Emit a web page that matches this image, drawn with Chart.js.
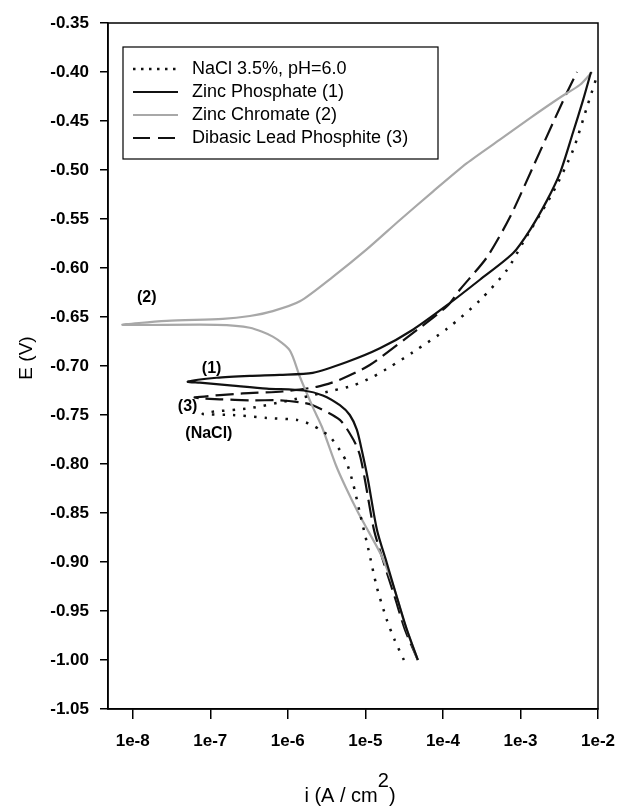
<!DOCTYPE html>
<html>
<head>
<meta charset="utf-8">
<script src="https://cdn.jsdelivr.net/npm/chart.js@4.4.1/dist/chart.umd.min.js"></script>
<style>
  html, body { margin: 0; padding: 0; background: #fff; }
</style>
</head>
<body>
<canvas id="tafel" width="621" height="807"></canvas>
<script>
// Криві поляризації (E проти |i|)
const naclCurrent = [3.14e-5, 2.40e-5, 1.89e-5, 1.41e-5, 1.08e-5, 8.5e-6, 6.9e-6, 5.77e-6, 4.98e-6, 3.48e-6, 2.59e-6, 2.04e-6, 1.31e-6, 5.36e-7, 1.95e-7, 8.0e-8, 9.9e-8, 3.24e-7, 1.06e-6, 3.81e-6, 6.9e-6, 1.25e-5, 2.07e-5, 4.1e-5, 1.13e-4, 3.0e-4, 6.7e-4, 1.08e-3, 2.62e-3, 4.75e-3, 7.2e-3, 9.8e-3];
const naclPotential = [-1.00, -0.980, -0.959, -0.926, -0.885, -0.850, -0.819, -0.799, -0.789, -0.772, -0.765, -0.760, -0.755, -0.753, -0.750, -0.749, -0.747, -0.743, -0.735, -0.725, -0.720, -0.711, -0.701, -0.686, -0.662, -0.633, -0.602, -0.574, -0.523, -0.480, -0.436, -0.403];

const phosphateCurrent = [4.75e-5, 3.43e-5, 2.55e-5, 1.89e-5, 1.41e-5, 1.08e-5, 9.0e-6, 7.76e-6, 6.3e-6, 4.69e-6, 2.83e-6, 1.6e-6, 5.36e-7, 1.95e-7, 7.33e-8, 5.13e-8, 1.21e-7, 3.24e-7, 7.9e-7, 2.1e-6, 5.77e-6, 1.54e-5, 4.1e-5, 1.13e-4, 3.0e-4, 8.0e-4, 1.33e-3, 2.2e-3, 3.24e-3, 4.75e-3, 6.4e-3, 8.13e-3];
const phosphatePotential = [-1.00, -0.969, -0.936, -0.901, -0.867, -0.816, -0.786, -0.765, -0.750, -0.740, -0.730, -0.725, -0.723, -0.720, -0.717, -0.716, -0.712, -0.710, -0.709, -0.707, -0.696, -0.682, -0.663, -0.638, -0.612, -0.585, -0.561, -0.531, -0.503, -0.462, -0.429, -0.400];

const chromateCurrent = [4.75e-5, 3.24e-5, 2.4e-5, 1.6e-5, 1.1e-5, 8.0e-6, 5.6e-6, 4.16e-6, 2.75e-6, 2.1e-6, 1.43e-6, 1.06e-6, 6.4e-7, 3.24e-7, 1.21e-7, 7.4e-9, 2.75e-8, 1.45e-7, 3.24e-7, 6.4e-7, 1.43e-6, 3.81e-6, 1.04e-5, 2.79e-5, 7.43e-5, 2.04e-4, 5.43e-4, 1.33e-3, 3.24e-3, 5.86e-3, 8.38e-3];
const chromatePotential = [-1.00, -0.964, -0.929, -0.893, -0.869, -0.849, -0.824, -0.801, -0.762, -0.742, -0.711, -0.684, -0.670, -0.661, -0.658, -0.658, -0.654, -0.652, -0.649, -0.644, -0.634, -0.609, -0.581, -0.551, -0.522, -0.493, -0.469, -0.447, -0.426, -0.413, -0.400];

const leadCurrent = [4.75e-5, 3.24e-5, 2.4e-5, 1.73e-5, 1.29e-5, 9.87e-6, 8.5e-6, 7.1e-6, 4.69e-6, 2.1e-6, 1.43e-6, 7.9e-7, 3.24e-7, 1.33e-7, 7.33e-8, 6.3e-8, 2.62e-7, 8.6e-7, 2.44e-6, 4.69e-6, 1.14e-5, 3.43e-5, 1.13e-4, 1.66e-4, 3.7e-4, 7.33e-4, 1.45e-3, 2.62e-3, 3.98e-3, 5.36e-3];
const leadPotential = [-1.00, -0.969, -0.936, -0.901, -0.867, -0.816, -0.791, -0.776, -0.755, -0.740, -0.737, -0.735, -0.735, -0.734, -0.733, -0.732, -0.728, -0.726, -0.721, -0.714, -0.699, -0.671, -0.639, -0.622, -0.589, -0.548, -0.497, -0.452, -0.421, -0.400];

const seriesNames = ["NaCl 3.5%, pH=6.0", "Zinc Phosphate (1)", "Zinc Chromate (2)", "Dibasic Lead Phosphite (3)"];

const xTickValues = [1e-8, 1e-7, 1e-6, 1e-5, 1e-4, 1e-3, 1e-2];
const xTickLabels = ["1e-8", "1e-7", "1e-6", "1e-5", "1e-4", "1e-3", "1e-2"];
const yTickValues = [-1.05, -1.00, -0.95, -0.90, -0.85, -0.80, -0.75, -0.70, -0.65, -0.60, -0.55, -0.50, -0.45, -0.40, -0.35];

// Підписи кривих (у координатах даних)
const curveLabels = [
    { text: "(2)", i: 1.52e-8, e: -0.630 },
    { text: "(1)", i: 1.04e-7, e: -0.703 },
    { text: "(3)", i: 5.1e-8, e: -0.741 },
    { text: "(NaCl)", i: 9.6e-8, e: -0.769 }
];

const FONT = "'Liberation Sans', Arial, sans-serif";

function toPoints(xs, ys) {
    return xs.map((x, k) => ({ x: x, y: ys[k] }));
}

const datasets = [
    {
        label: seriesNames[0],
        data: toPoints(naclCurrent, naclPotential),
        borderColor: "#111",
        borderWidth: 2.5,
        borderDash: [2.5, 8],
        legendDash: [2.5, 5.5]
    },
    {
        label: seriesNames[1],
        data: toPoints(phosphateCurrent, phosphatePotential),
        borderColor: "#111",
        borderWidth: 2.2,
        borderDash: []
    },
    {
        label: seriesNames[2],
        data: toPoints(chromateCurrent, chromatePotential),
        borderColor: "#a8a8a8",
        borderWidth: 2.2,
        borderDash: []
    },
    {
        label: seriesNames[3],
        data: toPoints(leadCurrent, leadPotential),
        borderColor: "#111",
        borderWidth: 2.2,
        borderDash: [18, 7],
        legendDash: [17, 8]
    }
];
datasets.forEach(d => {
    d.showLine = true;
    d.pointRadius = 0;
    d.tension = 0.25;
    d.fill = false;
});

// Рамка, легенда, підписи та назви осей
const decorPlugin = {
    id: "decor",
    afterDraw(chart) {
        const ctx = chart.ctx;
        const a = chart.chartArea;
        const xs = chart.scales.x, ys = chart.scales.y;
        ctx.save();

        ctx.strokeStyle = "#000";
        ctx.lineWidth = 1.5;
        ctx.strokeRect(a.left, a.top, a.right - a.left, a.bottom - a.top);

        // легенда
        const boxL = a.left + 15, boxT = a.top + 24, boxW = 315, boxH = 112;
        ctx.lineWidth = 1.2;
        ctx.strokeRect(boxL, boxT, boxW, boxH);
        ctx.font = "18px " + FONT;
        ctx.textBaseline = "middle";
        ctx.textAlign = "left";
        chart.data.datasets.forEach((d, k) => {
            const yy = boxT + 22 + k * 23;
            ctx.beginPath();
            ctx.setLineDash(d.legendDash || d.borderDash || []);
            ctx.strokeStyle = d.borderColor;
            ctx.lineWidth = d.borderWidth;
            ctx.moveTo(boxL + 10, yy);
            ctx.lineTo(boxL + 55, yy);
            ctx.stroke();
            ctx.setLineDash([]);
            ctx.fillStyle = "#000";
            ctx.fillText(d.label, boxL + 69, yy);
        });

        // підписи кривих
        ctx.font = "bold 16px " + FONT;
        ctx.textAlign = "center";
        curveLabels.forEach(l => {
            ctx.fillText(l.text, xs.getPixelForValue(l.i), ys.getPixelForValue(l.e));
        });

        // назва осі Y
        ctx.font = "19px " + FONT;
        ctx.save();
        ctx.translate(27, (a.top + a.bottom) / 2 - 8);
        ctx.rotate(-Math.PI / 2);
        ctx.textAlign = "center";
        ctx.fillText("E (V)", 0, 0);
        ctx.restore();

        // назва осі X з верхнім індексом
        ctx.font = "20px " + FONT;
        const main = "i (A / cm", sup = "2", tail = ")";
        const w1 = ctx.measureText(main).width;
        const w2 = ctx.measureText(sup).width;
        const w3 = ctx.measureText(tail).width;
        let x0 = (a.left + a.right) / 2 - 3 - (w1 + w2 + w3) / 2;
        const base = 802;
        ctx.textAlign = "left";
        ctx.textBaseline = "alphabetic";
        ctx.fillText(main, x0, base);
        ctx.fillText(sup, x0 + w1, base - 15);
        ctx.fillText(tail, x0 + w1 + w2, base);
        ctx.restore();
    }
};

const ctx = document.getElementById("tafel").getContext("2d");
new Chart(ctx, {
    type: "scatter",
    data: { datasets: datasets },
    plugins: [decorPlugin],
    options: {
        responsive: false,
        animation: false,
        layout: { padding: { top: 23, right: 23, left: 0, bottom: 0 } },
        plugins: {
            legend: { display: false },
            tooltip: { enabled: false }
        },
        scales: {
            x: {
                type: "logarithmic",
                min: 4.8e-9,
                max: 1e-2,
                afterBuildTicks(scale) {
                    scale.ticks = xTickValues.map(v => ({ value: v, major: true }));
                },
                afterFit(scale) {
                    scale.height = 98;
                    scale.paddingLeft = 0;
                    scale.paddingRight = 0;
                },
                ticks: {
                    autoSkip: false,
                    maxRotation: 0,
                    padding: 12,
                    color: "#000",
                    font: { family: FONT, size: 17, weight: "bold" },
                    callback: (v, k) => xTickLabels[k]
                },
                grid: { drawOnChartArea: false, tickLength: 10, color: "#000", lineWidth: 1.5 },
                border: { color: "#000", width: 1.5 }
            },
            y: {
                type: "linear",
                min: -1.05,
                max: -0.35,
                afterBuildTicks(scale) {
                    scale.ticks = yTickValues.map(v => ({ value: v }));
                },
                afterFit(scale) {
                    scale.width = 108;
                    scale.paddingTop = 0;
                    scale.paddingBottom = 0;
                },
                ticks: {
                    autoSkip: false,
                    padding: 11,
                    color: "#000",
                    font: { family: FONT, size: 17, weight: "bold" },
                    callback: v => v.toFixed(2)
                },
                grid: { drawOnChartArea: false, tickLength: 8, color: "#000", lineWidth: 1.5 },
                border: { color: "#000", width: 1.5 }
            }
        }
    }
});
</script>
</body>
</html>
